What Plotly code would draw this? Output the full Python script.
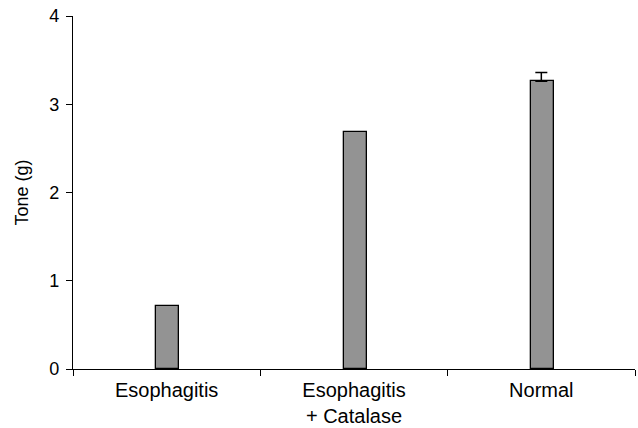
import plotly.graph_objects as go

categories = ["Esophagitis", "Esophagitis<br>+ Catalase", "Normal"]
tone_values = [0.71, 2.69, 3.26]
error_plus = [0.0, 0.0, 0.10]
y_ticks = [0, 1, 2, 3, 4]

fig = go.Figure()
fig.add_trace(go.Bar(
    x=categories,
    y=tone_values,
    width=0.123,
    offset=-0.055,
    marker=dict(color="#939393", line=dict(color="#000000", width=1.3)),
    showlegend=False,
))

# error bar only where an error value exists
err_idx = [i for i, e in enumerate(error_plus) if e > 0]
fig.add_trace(go.Scatter(
    x=[categories[i] for i in err_idx],
    y=[tone_values[i] for i in err_idx],
    mode="markers",
    marker=dict(size=1, opacity=0),
    error_y=dict(type="data", symmetric=False,
                 array=[error_plus[i] for i in err_idx],
                 arrayminus=[0 for _ in err_idx], visible=True,
                 color="#000000", thickness=1.5, width=6),
    showlegend=False, hoverinfo="skip",
))

fig.update_layout(
    width=638, height=428,
    margin=dict(l=73, r=3, t=16, b=59),
    paper_bgcolor="white", plot_bgcolor="white",
    font=dict(family="Liberation Sans, Arial, sans-serif", color="#000000"),
    bargap=0,
)
fig.update_xaxes(
    type="category", automargin=False,
    showline=True, linecolor="#000000", linewidth=1.2,
    ticks="outside", tickson="boundaries", ticklen=6, tickwidth=1.2, tickcolor="#000000",
    tickfont=dict(size=20), ticklabelstandoff=3,
    showgrid=False, zeroline=False,
    range=[-0.5, 2.5],
)
fig.update_yaxes(
    range=[0, 4], tickvals=y_ticks, automargin=False,
    showline=True, linecolor="#000000", linewidth=1.2,
    ticks="outside", ticklen=6, tickwidth=1.2, tickcolor="#000000",
    tickfont=dict(size=18), ticklabelstandoff=3,
    showgrid=False, zeroline=False,
    title=dict(text="Tone (g)", font=dict(size=18, color="#000000"), standoff=15),
)

fig.write_html("out.html", config={"displayModeBar": False},
               post_script="document.body.style.margin='0';")
